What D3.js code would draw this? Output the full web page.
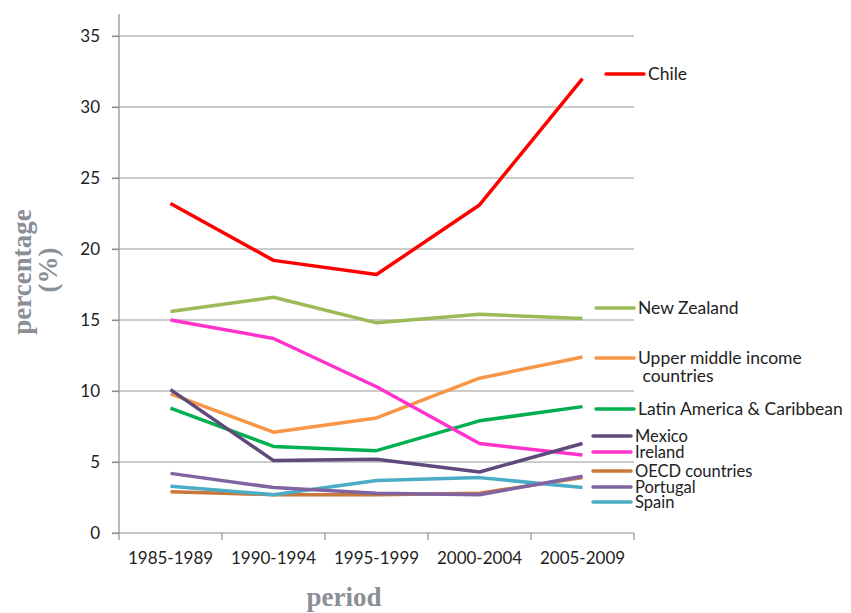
<!DOCTYPE html>
<html lang="en">
<head>
<meta charset="UTF-8">
<title>Percentage by period</title>
<script src="https://d3js.org/d3.v7.min.js"></script>
<style>
  body { margin: 0; background: #fff; }
  text { font-family: Lato, "Open Sans", sans-serif; }
</style>
</head>
<body>
<svg id="chart" width="851" height="613"></svg>
<script>
// data
const periods = ["1985-1989", "1990-1994", "1995-1999", "2000-2004", "2005-2009"];
const yTicks = [0, 5, 10, 15, 20, 25, 30, 35];

const chile      = [23.2, 19.2, 18.2, 23.1, 32.0];
const newZealand = [15.6, 16.6, 14.8, 15.4, 15.1];
const upperMid   = [9.8, 7.1, 8.1, 10.9, 12.4];
const latinAm    = [8.8, 6.1, 5.8, 7.9, 8.9];
const mexico     = [10.1, 5.1, 5.2, 4.3, 6.3];
const ireland    = [15.0, 13.7, 10.3, 6.3, 5.5];
const oecd       = [2.9, 2.7, 2.7, 2.8, 3.9];
const portugal   = [4.2, 3.2, 2.8, 2.7, 4.0];
const spain      = [3.3, 2.7, 3.7, 3.9, 3.2];

const series = [
  { name: ["Chile"], values: chile, color: "#ff0000" },
  { name: ["New Zealand"], values: newZealand, color: "#9bbb59" },
  { name: ["Upper middle income", " countries"], values: upperMid, color: "#f79646" },
  { name: ["Latin America & Caribbean"], values: latinAm, color: "#00b050" },
  { name: ["Mexico"], values: mexico, color: "#604a7b" },
  { name: ["Ireland"], values: ireland, color: "#ff33cc" },
  { name: ["OECD countries"], values: oecd, color: "#c8783a" },
  { name: ["Portugal"], values: portugal, color: "#8064a2" },
  { name: ["Spain"], values: spain, color: "#4bacc6" }
];

// legend layout (pixel rows, line start, font size)
const legendLayout = [
  { y: 74, x0: 606, fs: 17.5 },
  { y: 308, x0: 596, fs: 17.5 },
  { y: 358, x0: 596, fs: 17.5 },
  { y: 409, x0: 596, fs: 17.5 },
  { y: 436, x0: 593, fs: 16.5 },
  { y: 452, x0: 593, fs: 16.5 },
  { y: 471, x0: 593, fs: 16.5 },
  { y: 487, x0: 593, fs: 16.5 },
  { y: 502, x0: 593, fs: 16.5 }
];

const svg = d3.select("#chart");
const plotLeft = 119, plotRight = 634, plotTop = 36, plotBottom = 533;

const x = d3.scaleBand().domain(periods).range([plotLeft, plotRight]);
const y = d3.scaleLinear().domain([0, 35]).range([plotBottom, plotTop]);

// gridlines
svg.append("g")
  .selectAll("line")
  .data(yTicks.filter(d => d > 0))
  .join("line")
  .attr("x1", plotLeft - 7)
  .attr("x2", plotRight)
  .attr("y1", d => y(d))
  .attr("y2", d => y(d))
  .attr("stroke", "#9a9a9a")
  .attr("stroke-width", 1.2);

// y axis
const yAxis = svg.append("g")
  .attr("transform", `translate(${plotLeft},0)`)
  .call(d3.axisLeft(y).tickValues(yTicks).tickSize(7).tickPadding(12));
yAxis.select(".domain").remove();
yAxis.selectAll(".tick line").attr("stroke", "#8c8c8c").attr("stroke-width", 1.2);
yAxis.selectAll(".tick text").attr("font-size", 17).attr("fill", "#222");
svg.append("line")
  .attr("x1", plotLeft).attr("x2", plotLeft)
  .attr("y1", 14).attr("y2", plotBottom)
  .attr("stroke", "#8c8c8c").attr("stroke-width", 1.2);

// x axis
const xAxis = svg.append("g")
  .attr("transform", `translate(0,${plotBottom})`)
  .call(d3.axisBottom(x).tickSize(0).tickPadding(19));
xAxis.select(".domain").remove();
xAxis.selectAll(".tick text").attr("font-size", 17).attr("fill", "#222");
svg.append("line")
  .attr("x1", plotLeft - 7).attr("x2", plotRight)
  .attr("y1", plotBottom).attr("y2", plotBottom)
  .attr("stroke", "#8c8c8c").attr("stroke-width", 1.2);
svg.append("g")
  .selectAll("line")
  .data(periods.concat(["end"]))
  .join("line")
  .attr("x1", (d, i) => plotLeft + i * x.step())
  .attr("x2", (d, i) => plotLeft + i * x.step())
  .attr("y1", plotBottom)
  .attr("y2", plotBottom + 7)
  .attr("stroke", "#8c8c8c").attr("stroke-width", 1.2);

// lines
const line = d3.line()
  .x((d, i) => x(periods[i]) + x.bandwidth() / 2)
  .y(d => y(d));

const drawOrder = [1, 2, 3, 5, 4, 6, 8, 7, 0];
svg.append("g")
  .selectAll("path")
  .data(drawOrder.map(i => series[i]))
  .join("path")
  .attr("d", d => line(d.values))
  .attr("fill", "none")
  .attr("stroke", d => d.color)
  .attr("stroke-width", 3.5)
  .attr("stroke-linejoin", "round");

// legend
series.forEach((s, i) => {
  const l = legendLayout[i];
  svg.append("line")
    .attr("x1", l.x0).attr("x2", l.x0 + 38)
    .attr("y1", l.y).attr("y2", l.y)
    .attr("stroke", s.color).attr("stroke-width", 3.5)
    .attr("stroke-linecap", "round");
  const t = svg.append("text")
    .attr("x", l.x0 + 42)
    .attr("y", l.y + 6)
    .attr("font-size", l.fs)
    .attr("fill", "#222");
  s.name.forEach((n, k) => {
    t.append("tspan")
      .attr("x", l.x0 + 42)
      .attr("dy", k === 0 ? 0 : 18)
      .style("white-space", "pre")
      .text(n);
  });
});

// axis titles
const titleStyle = sel => sel
  .style("font-family", "'Liberation Serif', serif")
  .attr("font-weight", "bold")
  .attr("font-size", 27)
  .attr("fill", "#8a8f96")
  .attr("text-anchor", "middle");

svg.append("text")
  .attr("transform", "translate(31,272) rotate(-90)")
  .text("percentage")
  .call(titleStyle);
svg.append("text")
  .attr("transform", "translate(57,270) rotate(-90)")
  .text("(%)")
  .call(titleStyle);
svg.append("text")
  .attr("x", 344)
  .attr("y", 606)
  .text("period")
  .call(titleStyle);
</script>
</body>
</html>
